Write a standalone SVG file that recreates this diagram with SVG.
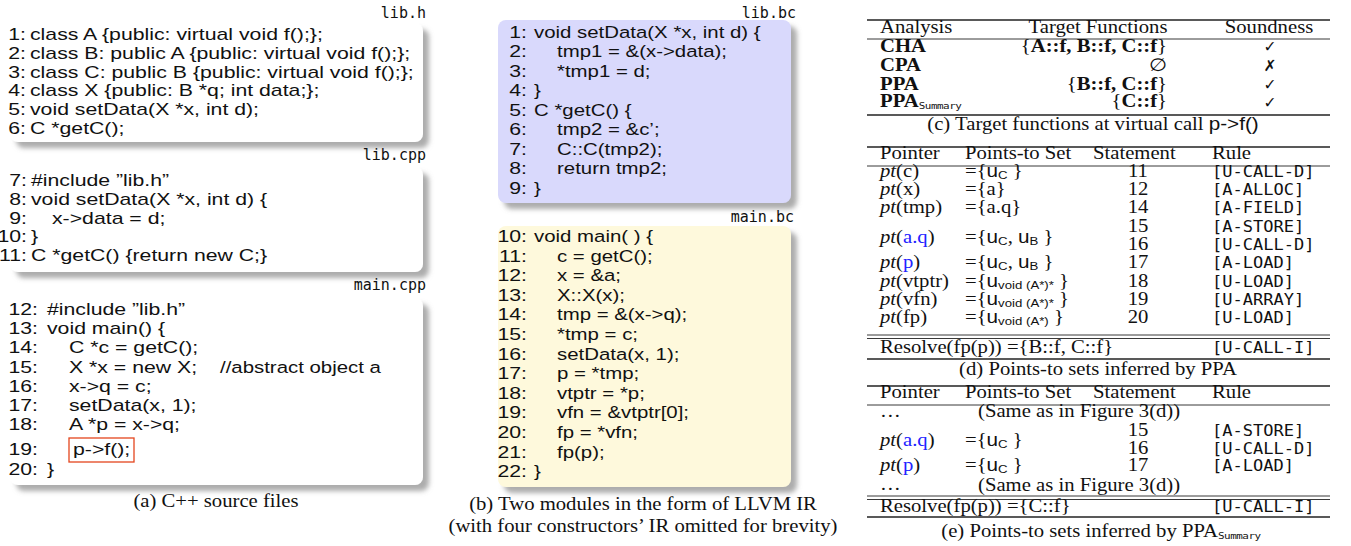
<svg xmlns="http://www.w3.org/2000/svg" width="1351" height="546" viewBox="0 0 1351 546">
<defs>
<filter id="sh" x="-5%" y="-5%" width="115%" height="125%">
<feDropShadow dx="6" dy="6" stdDeviation="2.5" flood-color="#808080" flood-opacity="0.65"/>
</filter>
<style>
.code{font-family:"Liberation Sans",Arial,sans-serif;font-size:17px;fill:#111}
.ser{font-family:"Liberation Serif","Times New Roman","DejaVu Serif",serif;font-size:18px;fill:#111}
.lbl{font-family:"DejaVu Sans Mono","Liberation Mono",monospace;font-size:15px;fill:#111}
.rul{font-family:"DejaVu Sans Mono","Liberation Mono",monospace;font-size:15.5px;fill:#111}
.sans{font-family:"Liberation Sans",Arial,sans-serif}
.b{font-weight:bold}
.it{font-style:italic}
.blue{fill:#2323ff}
.sm{font-family:"Liberation Sans",Arial,sans-serif;font-size:11.5px}
.tiny{font-family:"DejaVu Sans Mono",monospace;font-size:9.5px;letter-spacing:-0.4px}
.end{text-anchor:end}
.mid{text-anchor:middle}
.bx{filter:url(#sh)}
.rl{stroke:#222;stroke-width:0.9}
.rt{stroke:#222;stroke-width:1.5}
.chk{font-family:"DejaVu Sans",sans-serif;font-size:15.5px;fill:#111;text-anchor:middle}
</style>
</defs>
<rect width="1351" height="546" fill="#ffffff"/>

<!-- (a) lib.h -->
<g id="lib_h">
<rect class="bx" x="10" y="23" width="413" height="119" rx="8" fill="#ffffff"/>
<text class="lbl end" x="426" y="18">lib.h</text>
<g class="code end" transform="translate(26,0) scale(1.25,1)">
<text y="40">1:</text><text y="58.8">2:</text><text y="77.6">3:</text><text y="96.4">4:</text><text y="115.2">5:</text><text y="134">6:</text>
</g>
<g class="code" transform="translate(30,0) scale(1.25,1)">
<text y="40">class A {public: virtual void f();};</text>
<text y="58.8">class B: public A {public: virtual void f();};</text>
<text y="77.6">class C: public B {public: virtual void f();};</text>
<text y="96.4">class X {public: B *q; int data;};</text>
<text y="115.2">void setData(X *x, int d);</text>
<text y="134">C *getC();</text>
</g>
</g>

<!-- (a) lib.cpp -->
<g id="lib_cpp">
<rect class="bx" x="10" y="167" width="413" height="105" rx="8" fill="#ffffff"/>
<text class="lbl end" x="426" y="160">lib.cpp</text>
<g class="code end" transform="translate(27,0) scale(1.25,1)">
<text y="186">7:</text><text y="204.8">8:</text><text y="223.6">9:</text><text y="242.4">10:</text><text y="261.2">11:</text>
</g>
<g class="code" transform="translate(31,0) scale(1.25,1)">
<text y="186">#include ”lib.h”</text>
<text y="204.8">void setData(X *x, int d) {</text>
<text y="242.4">}</text>
<text y="261.2">C *getC() {return new C;}</text>
</g>
<g class="code" transform="translate(52,0) scale(1.25,1)">
<text y="223.6">x-&gt;data = d;</text>
</g>
</g>

<!-- (a) main.cpp -->
<g id="main_cpp">
<rect class="bx" x="10" y="298" width="413" height="187" rx="8" fill="#ffffff"/>
<text class="lbl end" x="426" y="290">main.cpp</text>
<g class="code end" transform="translate(38,0) scale(1.25,1)">
<text y="315">12:</text><text y="334.2">13:</text><text y="353.4">14:</text><text y="372.6">15:</text><text y="391.8">16:</text><text y="411">17:</text><text y="430.2">18:</text><text y="455">19:</text><text y="475">20:</text>
</g>
<g class="code" transform="translate(47,0) scale(1.25,1)">
<text y="315">#include ”lib.h”</text>
<text y="334.2">void main() {</text>
<text y="475">}</text>
</g>
<g class="code" transform="translate(69,0) scale(1.25,1)">
<text y="353.4">C *c = getC();</text>
<text y="372.6">X *x = new X;</text>
<text y="391.8">x-&gt;q = c;</text>
<text y="411">setData(x, 1);</text>
<text y="430.2">A *p = x-&gt;q;</text>
</g>
<g class="code" transform="translate(73,0) scale(1.25,1)">
<text y="455">p-&gt;f();</text>
</g>
<g class="code" transform="translate(220,0) scale(1.2,1)">
<text y="372.6">//abstract object a</text>
</g>
<rect x="69" y="438" width="65" height="24" fill="none" stroke="#e4461e" stroke-width="1.3"/>
</g>

<g id="caption_a" class="ser mid" transform="translate(216,0) scale(1.15,1)"><text y="507">(a) C++ source files</text></g>

<!-- (b) lib.bc -->
<g id="lib_bc">
<rect class="bx" x="498" y="20" width="293" height="183" rx="8" fill="#d9d9fc"/>
<text class="lbl end" x="796" y="18">lib.bc</text>
<g class="code end" transform="translate(527,0) scale(1.25,1)">
<text y="38">1:</text><text y="57.5">2:</text><text y="77">3:</text><text y="96.5">4:</text><text y="116">5:</text><text y="135.5">6:</text><text y="155">7:</text><text y="174.5">8:</text><text y="194">9:</text>
</g>
<g class="code" transform="translate(534,0) scale(1.2,1)">
<text y="38">void setData(X *x, int d) {</text>
<text y="96.5">}</text>
<text y="116">C *getC() {</text>
<text y="194">}</text>
</g>
<g class="code" transform="translate(557,0) scale(1.2,1)">
<text y="57.5">tmp1 = &amp;(x-&gt;data);</text>
<text y="77">*tmp1 = d;</text>
<text y="135.5">tmp2 = &amp;c’;</text>
<text y="155">C::C(tmp2);</text>
<text y="174.5">return tmp2;</text>
</g>
</g>

<!-- (b) main.bc -->
<g id="main_bc">
<rect class="bx" x="498" y="226" width="293" height="261" rx="8" fill="#fef9dc"/>
<text class="lbl end" x="794" y="222">main.bc</text>
<g class="code end" transform="translate(527,0) scale(1.25,1)">
<text y="242">10:</text><text y="261.6">11:</text><text y="281.2">12:</text><text y="300.8">13:</text><text y="320.4">14:</text><text y="340">15:</text><text y="359.6">16:</text><text y="379.2">17:</text><text y="398.8">18:</text><text y="418.4">19:</text><text y="438">20:</text><text y="457.6">21:</text><text y="477.2">22:</text>
</g>
<g class="code" transform="translate(534,0) scale(1.2,1)">
<text y="242">void main( ) {</text>
<text y="477.2">}</text>
</g>
<g class="code" transform="translate(557,0) scale(1.2,1)">
<text y="261.6">c = getC();</text>
<text y="281.2">x = &amp;a;</text>
<text y="300.8">X::X(x);</text>
<text y="320.4">tmp = &amp;(x-&gt;q);</text>
<text y="340">*tmp = c;</text>
<text y="359.6">setData(x, 1);</text>
<text y="379.2">p = *tmp;</text>
<text y="398.8">vtptr = *p;</text>
<text y="418.4">vfn = &amp;vtptr[0];</text>
<text y="438">fp = *vfn;</text>
<text y="457.6">fp(p);</text>
</g>
</g>

<g id="caption_b" class="ser mid" transform="translate(643,0) scale(1.15,1)">
<text y="510">(b) Two modules in the form of LLVM IR</text>
<text y="532">(with four constructors’ IR omitted for brevity)</text>
</g>

<!-- (c) table -->
<g id="table_c">
<line class="rt" x1="867" y1="20" x2="1330" y2="20"/>
<line class="rl" x1="867" y1="39" x2="1330" y2="39"/>
<line class="rt" x1="867" y1="115" x2="1330" y2="115"/>
<g class="ser" transform="translate(880,0) scale(1.15,1)">
<text y="33">Analysis</text>
<text y="52" class="b">CHA</text>
<text y="71" class="b">CPA</text>
<text y="90" class="b">PPA</text>
<text y="107"><tspan class="b">PPA</tspan><tspan class="tiny" dy="2.5">Summary</tspan></text>
</g>
<g class="ser mid" transform="translate(1098,0) scale(1.15,1)"><text y="33">Target Functions</text></g>
<g class="ser mid" transform="translate(1269,0) scale(1.15,1)"><text y="33">Soundness</text></g>
<g class="ser end" transform="translate(1167,0) scale(1.15,1)">
<text y="52">{<tspan class="b">A::f, B::f, C::f</tspan>}</text>
<text y="71">∅</text>
<text y="90">{<tspan class="b">B::f, C::f</tspan>}</text>
<text y="107">{<tspan class="b">C::f</tspan>}</text>
</g>
<g transform="translate(1270,0)">
<text class="chk" y="52">✓</text>
<text class="chk" y="71">✗</text>
<text class="chk" y="89.5">✓</text>
<text class="chk" y="107.5">✓</text>
</g>
<g class="ser mid" transform="translate(1093,0) scale(1.15,1)"><text y="130">(c) Target functions at virtual call <tspan class="sans">p-&gt;f()</tspan></text></g>
</g>

<!-- (d) table -->
<g id="table_d">
<line class="rt" x1="867" y1="147" x2="1330" y2="147"/>
<line class="rl" x1="867" y1="166" x2="1330" y2="166"/>
<line class="rl" x1="867" y1="335" x2="1330" y2="335"/>
<line class="rl" x1="867" y1="338.5" x2="1330" y2="338.5"/>
<line class="rt" x1="867" y1="359" x2="1330" y2="359"/>
<g class="ser" transform="translate(880,0) scale(1.15,1)">
<text y="159">Pointer</text>
<text y="177.5"><tspan class="it">pt</tspan>(c)</text>
<text y="195.5"><tspan class="it">pt</tspan>(x)</text>
<text y="213"><tspan class="it">pt</tspan>(tmp)</text>
<text y="243"><tspan class="it">pt</tspan>(<tspan class="blue">a.q</tspan>)</text>
<text y="268"><tspan class="it">pt</tspan>(<tspan class="blue">p</tspan>)</text>
<text y="287"><tspan class="it">pt</tspan>(vtptr)</text>
<text y="305"><tspan class="it">pt</tspan>(vfn)</text>
<text y="323"><tspan class="it">pt</tspan>(fp)</text>
<text y="353">Resolve(fp(p)) ={B::f, C::f}</text>
</g>
<g class="ser" transform="translate(965,0) scale(1.15,1)">
<text y="159">Points-to Set</text>
<text y="177.5">={<tspan class="sans">u</tspan><tspan class="sm" dy="1.5">C</tspan><tspan dy="-1.5"> }</tspan></text>
<text y="195.5">={a}</text>
<text y="213">={a.q}</text>
<text y="243">={<tspan class="sans">u</tspan><tspan class="sm" dy="2.5">C</tspan><tspan dy="-2.5">, </tspan><tspan class="sans">u</tspan><tspan class="sm" dy="2.5">B</tspan><tspan dy="-2.5"> }</tspan></text>
<text y="268">={<tspan class="sans">u</tspan><tspan class="sm" dy="2.5">C</tspan><tspan dy="-2.5">, </tspan><tspan class="sans">u</tspan><tspan class="sm" dy="2.5">B</tspan><tspan dy="-2.5"> }</tspan></text>
<text y="287">={<tspan class="sans">u</tspan><tspan class="sm" dy="2.5">void (A*)*</tspan><tspan dy="-2.5"> }</tspan></text>
<text y="305">={<tspan class="sans">u</tspan><tspan class="sm" dy="2.5">void (A*)*</tspan><tspan dy="-2.5"> }</tspan></text>
<text y="323">={<tspan class="sans">u</tspan><tspan class="sm" dy="2.5">void (A*)</tspan><tspan dy="-2.5"> }</tspan></text>
</g>
<g class="ser" transform="translate(1093,0) scale(1.15,1)"><text y="159">Statement</text></g>
<g class="ser mid" transform="translate(1138,0) scale(1.15,1)">
<text y="177.5">11</text><text y="195.5">12</text><text y="213">14</text><text y="232">15</text><text y="250">16</text><text y="268">17</text><text y="287">18</text><text y="305">19</text><text y="323">20</text>
</g>
<g class="ser" transform="translate(1212,0) scale(1.15,1)"><text y="159">Rule</text></g>
<g class="rul" transform="translate(1212,0) scale(1.1,1)">
<text y="177.5">[U-CALL-D]</text>
<text y="195.5">[A-ALLOC]</text>
<text y="213">[A-FIELD]</text>
<text y="232">[A-STORE]</text>
<text y="250">[U-CALL-D]</text>
<text y="268">[A-LOAD]</text>
<text y="287">[U-LOAD]</text>
<text y="305">[U-ARRAY]</text>
<text y="323">[U-LOAD]</text>
<text y="353">[U-CALL-I]</text>
</g>
<g class="ser mid" transform="translate(1098,0) scale(1.15,1)"><text y="375">(d) Points-to sets inferred by PPA</text></g>
</g>

<!-- (e) table -->
<g id="table_e">
<line class="rt" x1="867" y1="386" x2="1330" y2="386"/>
<line class="rl" x1="867" y1="405" x2="1330" y2="405"/>
<line class="rl" x1="867" y1="496" x2="1330" y2="496"/>
<line class="rl" x1="867" y1="499.5" x2="1330" y2="499.5"/>
<line class="rt" x1="867" y1="517" x2="1330" y2="517"/>
<g class="ser" transform="translate(880,0) scale(1.15,1)">
<text y="398">Pointer</text>
<text y="417">…</text>
<text y="446"><tspan class="it">pt</tspan>(<tspan class="blue">a.q</tspan>)</text>
<text y="471"><tspan class="it">pt</tspan>(<tspan class="blue">p</tspan>)</text>
<text y="490">…</text>
<text y="512">Resolve(fp(p)) ={C::f}</text>
</g>
<g class="ser" transform="translate(965,0) scale(1.15,1)">
<text y="398">Points-to Set</text>
<text y="446">={<tspan class="sans">u</tspan><tspan class="sm" dy="2.5">C</tspan><tspan dy="-2.5"> }</tspan></text>
<text y="471">={<tspan class="sans">u</tspan><tspan class="sm" dy="2.5">C</tspan><tspan dy="-2.5"> }</tspan></text>
</g>
<g class="ser" transform="translate(978,0) scale(1.15,1)">
<text y="417">(Same as in Figure 3(d))</text>
<text y="491">(Same as in Figure 3(d))</text>
</g>
<g class="ser" transform="translate(1093,0) scale(1.15,1)"><text y="398">Statement</text></g>
<g class="ser mid" transform="translate(1138,0) scale(1.15,1)">
<text y="436">15</text><text y="454">16</text><text y="471">17</text>
</g>
<g class="ser" transform="translate(1212,0) scale(1.15,1)"><text y="398">Rule</text></g>
<g class="rul" transform="translate(1212,0) scale(1.1,1)">
<text y="436">[A-STORE]</text>
<text y="454">[U-CALL-D]</text>
<text y="471">[A-LOAD]</text>
<text y="512">[U-CALL-I]</text>
</g>
<g class="ser mid" transform="translate(1101,0) scale(1.15,1)"><text y="537">(e) Points-to sets inferred by PPA<tspan class="tiny" dy="2.5">Summary</tspan></text></g>
</g>
</svg>
